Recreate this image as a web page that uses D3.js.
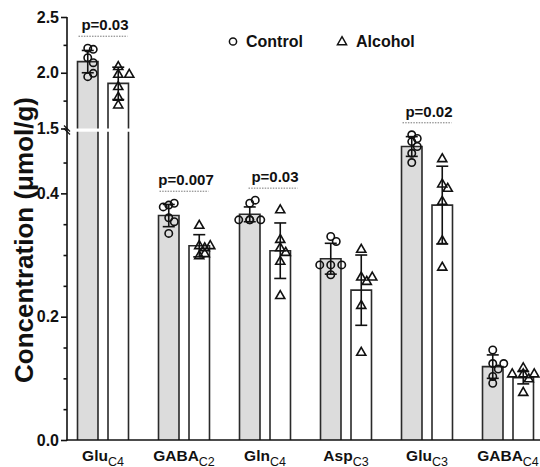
<!DOCTYPE html>
<html>
<head>
<meta charset="utf-8">
<script src="https://cdn.jsdelivr.net/npm/d3@7"></script>
<style>
  html, body { margin: 0; padding: 0; background: #fff; }
  svg { display: block; font-family: "Liberation Sans", Arial, sans-serif; }
</style>
</head>
<body>
<svg id="chart" width="540" height="467"></svg>
<script>
// ---------------- data ----------------
const categories = ["GluC4", "GABAC2", "GlnC4", "AspC3", "GluC3", "GABAC4"];
const labelMain  = ["Glu", "GABA", "Gln", "Asp", "Glu", "GABA"];
const labelSub   = ["C4", "C2", "C4", "C3", "C3", "C4"];
const groups = ["Control", "Alcohol"];

const controlMean = [2.10, 0.364, 0.366, 0.294, 0.476, 0.119];
const controlSD   = [0.10, 0.018, 0.012, 0.025, 0.016, 0.019];
const alcoholMean = [1.905, 0.315, 0.307, 0.243, 0.381, 0.101];
const alcoholSD   = [0.145, 0.018, 0.045, 0.057, 0.063, 0.010];

const controlPts = [
  [2.22, 2.21, 2.135, 2.09, 1.965, 1.995],
  [0.381, 0.384, 0.378, 0.3605, 0.354, 0.335],
  [0.384, 0.389, 0.357, 0.357, 0.357, 0.357],
  [0.330, 0.322, 0.284, 0.284, 0.284, 0.268],
  [0.495, 0.489, 0.484, 0.476, 0.465, 0.450],
  [0.146, 0.124, 0.124, 0.115, 0.103, 0.092]
];
const alcoholPts = [
  [2.06, 1.99, 1.99, 1.88, 1.785, 1.715],
  [0.349, 0.316, 0.3125, 0.316, 0.2995, 0.303],
  [0.374, 0.326, 0.3125, 0.305, 0.2905, 0.235],
  [0.310, 0.265, 0.258, 0.265, 0.219, 0.143],
  [0.457, 0.416, 0.409, 0.388, 0.324, 0.281],
  [0.118, 0.108, 0.108, 0.108, 0.100, 0.078]
];

const pCategories = ["GluC4", "GABAC2", "GlnC4", "GluC3"];
const pLabels     = ["p=0.03", "p=0.007", "p=0.03", "p=0.02"];

const upperMajor = [1.5, 2.0, 2.5];
const upperMinor = [1.75, 2.25];
const lowerMajor = [0.0, 0.2, 0.4];
const lowerMinor = [0.05, 0.1, 0.15, 0.25, 0.3, 0.35, 0.45];

// ---------------- layout ----------------
const svg = d3.select("#chart");
const axisX = 67, baseY = 440;
const COLORS = { Control: "#dcdcdc", Alcohol: "#ffffff" };
const pShift = { GlnC4: 8 };

const x = d3.scaleBand().domain(categories).range([62.5, 548.5]);
const xSub = d3.scaleBand().domain(groups).range([0, x.bandwidth()])
  .paddingInner(0.328).paddingOuter(0.492);

const yUpper = d3.scaleLinear().domain([1.5, 2.5]).range([128.5, 17]);
const yLower = d3.scaleLinear().domain([0, 0.5]).range([baseY, 131.7]);
const yv = v => v > 1 ? yUpper(v) : yLower(v);

const data = categories.map((c, i) => ({
  cat: c,
  bars: [
    { g: "Control", mean: controlMean[i], sd: controlSD[i], pts: controlPts[i] },
    { g: "Alcohol", mean: alcoholMean[i], sd: alcoholSD[i], pts: alcoholPts[i] }
  ]
}));

// ---------------- bars ----------------
const barG = svg.append("g");
data.forEach(d => {
  d.bars.forEach(b => {
    const x0 = x(d.cat) + xSub(b.g), x1 = x0 + xSub.bandwidth();
    const segs = [];
    if (b.mean > 1) {
      segs.push({ yb: yLower(0), yt: yLower(0.5), top: false });
      segs.push({ yb: yUpper(1.5), yt: yUpper(b.mean), top: true });
    } else {
      segs.push({ yb: yLower(0), yt: yLower(b.mean), top: true });
    }
    segs.forEach(s => {
      barG.append("rect").attr("x", x0).attr("y", s.yt)
        .attr("width", x1 - x0).attr("height", s.yb - s.yt)
        .attr("fill", COLORS[b.g]);
      const p = d3.path();
      if (s.top) {
        p.moveTo(x0, s.yb); p.lineTo(x0, s.yt); p.lineTo(x1, s.yt); p.lineTo(x1, s.yb);
      } else {
        p.moveTo(x0, s.yb); p.lineTo(x0, s.yt); p.moveTo(x1, s.yt); p.lineTo(x1, s.yb);
      }
      barG.append("path").attr("d", p.toString()).attr("fill", "none")
        .attr("stroke", "#2a2a2a").attr("stroke-width", 1.6);
    });
  });
});

// ---------------- error bars ----------------
const errG = svg.append("g").attr("stroke", "#111").attr("stroke-width", 1.6).attr("fill", "none");
const capW = 6;
data.forEach(d => {
  d.bars.forEach(b => {
    const cx = x(d.cat) + xSub(b.g) + xSub.bandwidth() / 2;
    const yt = yv(b.mean + b.sd), yb = yv(b.mean - b.sd);
    errG.append("line").attr("x1", cx).attr("x2", cx).attr("y1", yt).attr("y2", yb);
    errG.append("line").attr("x1", cx - capW).attr("x2", cx + capW).attr("y1", yt).attr("y2", yt);
    errG.append("line").attr("x1", cx - capW).attr("x2", cx + capW).attr("y1", yb).attr("y2", yb);
  });
});

// ---------------- points (simple beeswarm) ----------------
const ptG = svg.append("g").attr("fill", "none").attr("stroke", "#111").attr("stroke-width", 1.6);
const triPath = d3.symbol().type(d3.symbolTriangle).size(36);
function swarm(ys) {
  const placed = [], step = 5.5, minD = 5.6;
  const cands = [0, step, -step, 2 * step, -2 * step, 3 * step, -3 * step];
  return ys.map(y => {
    let off = 0;
    for (const c of cands) {
      if (placed.every(p => Math.hypot(p.x - c, p.y - y) >= minD)) { off = c; break; }
    }
    placed.push({ x: off, y });
    return off;
  });
}
data.forEach(d => {
  d.bars.forEach(b => {
    const cx = x(d.cat) + xSub(b.g) + xSub.bandwidth() / 2;
    const ys = b.pts.map(yv);
    const offs = swarm(ys);
    ys.forEach((y, k) => {
      if (b.g === "Control") {
        ptG.append("circle").attr("cx", cx + offs[k]).attr("cy", y).attr("r", 3.7);
      } else {
        ptG.append("path").attr("d", triPath())
          .attr("transform", `translate(${cx + offs[k]},${y + 0.8})`);
      }
    });
  });
});

// ---------------- axes ----------------
function drawAxis(scale, major, minor, fmt) {
  const a = svg.append("g").attr("transform", `translate(${axisX},0)`)
    .call(d3.axisLeft(scale).tickValues(major).tickSize(6).tickPadding(2).tickFormat(fmt));
  a.select(".domain").remove();
  a.selectAll("line").attr("stroke", "#111").attr("stroke-width", 1.6);
  a.selectAll("text").attr("font-size", 16).attr("font-weight", "bold")
    .attr("font-family", "Liberation Sans, Arial, sans-serif").attr("fill", "#111");
  const m = svg.append("g").attr("transform", `translate(${axisX},0)`)
    .call(d3.axisLeft(scale).tickValues(minor).tickSize(3.5).tickFormat(""));
  m.select(".domain").remove();
  m.selectAll("line").attr("stroke", "#111").attr("stroke-width", 1.6);
}
drawAxis(yUpper, upperMajor, upperMinor, d3.format(".1f"));
drawAxis(yLower, lowerMajor, lowerMinor, d3.format(".1f"));

svg.append("line").attr("x1", axisX).attr("x2", axisX).attr("y1", yUpper(2.5)).attr("y2", baseY + 0.8)
  .attr("stroke", "#111").attr("stroke-width", 1.6);
svg.append("line").attr("x1", axisX - 0.8).attr("x2", 540).attr("y1", baseY).attr("y2", baseY)
  .attr("stroke", "#111").attr("stroke-width", 1.6);
// break marks
[-1.5, 1.5].forEach(dy => {
  svg.append("line").attr("x1", axisX - 3).attr("y1", 127 + dy)
    .attr("x2", axisX + 3).attr("y2", 133 + dy)
    .attr("stroke", "#111").attr("stroke-width", 1.2);
});

// x labels
const xl = svg.append("g").attr("font-weight", "bold").attr("fill", "#111");
categories.forEach((c, i) => {
  const t = xl.append("text").attr("x", x(c) + x.bandwidth() / 2).attr("y", 461)
    .attr("text-anchor", "middle").attr("font-size", 15.5);
  t.append("tspan").text(labelMain[i]);
  t.append("tspan").attr("dy", 4.5).attr("font-size", 12.5).attr("font-weight", "normal").text(labelSub[i]);
});

// y title
svg.append("text").attr("transform", "translate(33,240) rotate(-90)")
  .attr("text-anchor", "middle").attr("font-size", 26).attr("font-weight", "bold")
  .attr("fill", "#111").text("Concentration (\u03bcmol/g)");

// ---------------- p-value annotations ----------------
const pG = svg.append("g");
pCategories.forEach((c, i) => {
  const d = data[categories.indexOf(c)];
  const tops = [];
  d.bars.forEach(b => { b.pts.forEach(v => tops.push(yv(v))); tops.push(yv(b.mean + b.sd)); });
  const ly = d3.min(tops) - 12;
  const sh = pShift[c] || 0;
  const x0 = x(c) + xSub("Control") + 1 + sh;
  const x1 = x(c) + xSub("Alcohol") + xSub.bandwidth() - 1 + sh;
  pG.append("line").attr("x1", x0).attr("x2", x1).attr("y1", ly).attr("y2", ly)
    .attr("stroke", "#777").attr("stroke-width", 1).attr("stroke-dasharray", "1.5,1.2");
  pG.append("text").attr("x", (x0 + x1) / 2 + 2).attr("y", ly - 6)
    .attr("text-anchor", "middle").attr("font-size", 15).attr("font-weight", "bold")
    .attr("fill", "#111").text(pLabels[i]);
});

// ---------------- legend ----------------
const lg = svg.append("g");
lg.append("circle").attr("cx", 233).attr("cy", 41.5).attr("r", 3.6)
  .attr("fill", "none").attr("stroke", "#111").attr("stroke-width", 1.5);
lg.append("text").attr("x", 246).attr("y", 47).attr("font-size", 16).attr("font-weight", "bold")
  .attr("fill", "#111").text(groups[0]);
lg.append("path").attr("d", triPath()).attr("transform", "translate(342,42)")
  .attr("fill", "none").attr("stroke", "#111").attr("stroke-width", 1.5);
lg.append("text").attr("x", 356).attr("y", 47).attr("font-size", 16).attr("font-weight", "bold")
  .attr("fill", "#111").text(groups[1]);
</script>
</body>
</html>
